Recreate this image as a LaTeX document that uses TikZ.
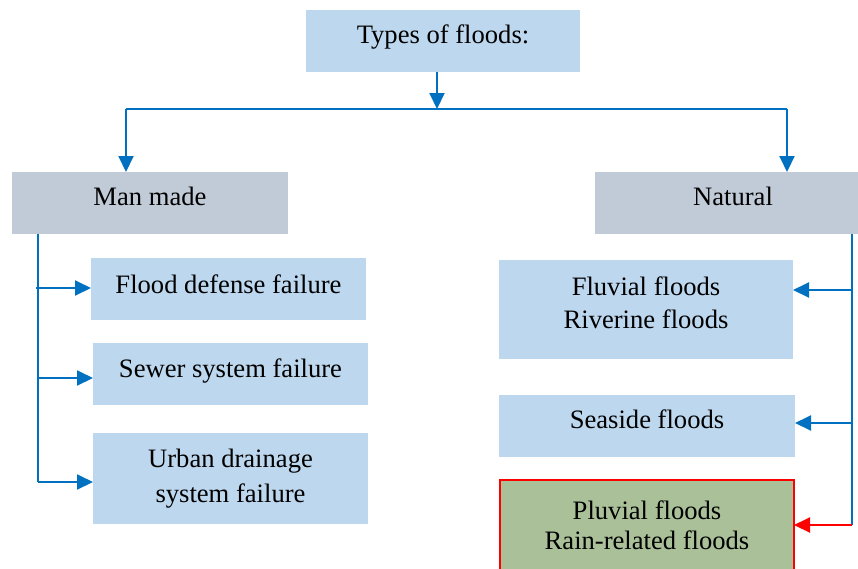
\documentclass[tikz,border=0pt]{standalone}
\usepackage{fontspec}
\setmainfont{Liberation Serif}
\usetikzlibrary{arrows.meta}
\definecolor{boxblue}{RGB}{189,215,238}
\definecolor{boxgrey}{RGB}{193,203,215}
\definecolor{boxgreen}{RGB}{169,192,152}
\definecolor{linkblue}{RGB}{0,112,192}
\definecolor{linkred}{RGB}{255,0,0}
\tikzset{
 floodbox/.style={fill=boxblue,align=center,inner sep=0pt,outer sep=0pt,font=\fontsize{26.6}{33}\selectfont},
 oneline/.style={floodbox,text height=18pt,text depth=#1},
 oneline/.default=13pt,
 groupbox/.style={oneline,fill=boxgrey},
 link/.style={draw=linkblue,line width=2pt,-{Triangle[length=16pt,width=15pt]}},
 trunk/.style={draw=linkblue,line width=2pt}
}
\begin{document}
\begin{tikzpicture}[x=1pt,y=-1pt]
\useasboundingbox (0,0) rectangle (858,568);
% top and the two groups
\node[oneline,minimum width=274pt,minimum height=62pt] (types) at (443,41) {Types of floods:};
\node[groupbox,minimum width=276pt,minimum height=62pt] (manmade) at (150,203) {Man made};
\node[groupbox,minimum width=276pt,minimum height=62pt] (natural) at (733,203) {Natural};
% man made causes
\node[oneline=10pt,minimum width=275pt,minimum height=62pt] (defense) at (228.5,289) {Flood defense failure};
\node[oneline=12pt,minimum width=275pt,minimum height=62pt] (sewer) at (230.5,374) {Sewer system failure};
\node[floodbox,minimum width=275pt,minimum height=91pt] (urban) at (230.5,478.5) {Urban drainage\\[2pt]system failure};
% natural causes
\node[floodbox,minimum width=294pt,minimum height=99pt] (fluvial) at (646,309.5) {Fluvial floods\\Riverine floods\\[-20pt]};
\node[oneline=14pt,minimum width=296pt,minimum height=62pt] (seaside) at (647,426) {Seaside floods};
\node[floodbox,fill=boxgreen,draw=linkred,line width=2pt,minimum width=294pt,minimum height=90pt] (pluvial) at (647,525) {Pluvial floods\\[-3pt]Rain-related floods};
% connectors
\coordinate (split) at (437,109);
\coordinate (barl) at (126,109);
\coordinate (barr) at (787,109);
\draw[link] (types.south -| split) -- (split);
\draw[trunk] (barl) -- (barr);
\draw[link] (barl) -- (barl |- manmade.north);
\draw[link] (barr) -- (barr |- natural.north);
\coordinate (ltop) at (38,234);
\coordinate (l1) at (36,288);
\coordinate (l2) at (38,378);
\coordinate (l3) at (38,482);
\draw[trunk] (ltop) -- (l3);
\draw[link] (l1) -- (l1 -| defense.west);
\draw[link] (l2) -- (l2 -| sewer.west);
\draw[link] (l3) -- (l3 -| urban.west);
\coordinate (rtop) at (852,234);
\coordinate (r1) at (852,290);
\coordinate (r2) at (852,423);
\coordinate (r3) at (852,525);
\draw[trunk] (rtop) -- (r3);
\draw[link] (r1) -- (r1 -| fluvial.east);
\draw[link] (r2) -- (r2 -| seaside.east);
\draw[link,draw=linkred,fill=linkred] (r3) -- (pluvial.east);
\end{tikzpicture}
\end{document}
